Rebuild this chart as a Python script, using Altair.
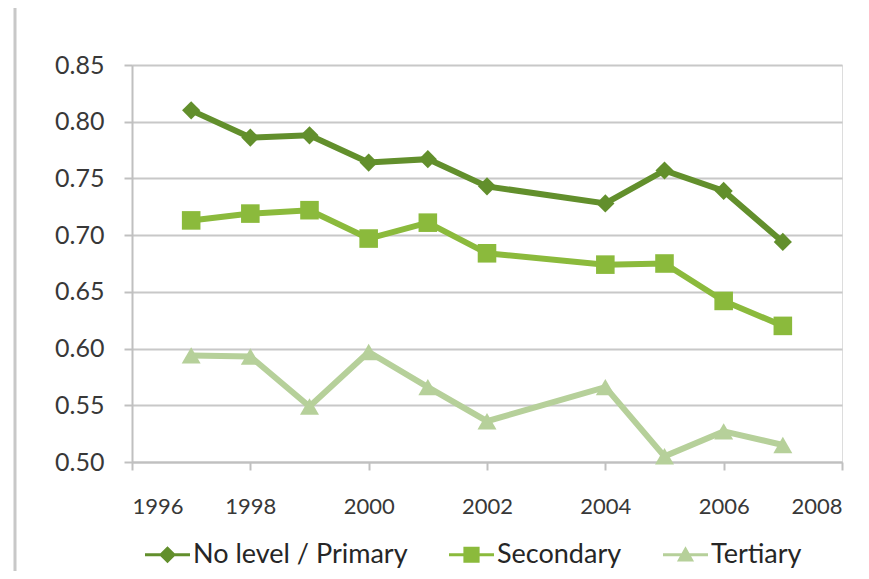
import altair as alt
import pandas as pd

years = [1997, 1998, 1999, 2000, 2001, 2002, 2004, 2005, 2006, 2007]
primary = [0.810, 0.786, 0.788, 0.764, 0.767, 0.743, 0.728, 0.757, 0.739, 0.694]
secondary = [0.713, 0.719, 0.722, 0.697, 0.711, 0.684, 0.674, 0.675, 0.642, 0.620]
tertiary = [0.594, 0.593, 0.549, 0.597, 0.566, 0.536, 0.566, 0.505, 0.527, 0.515]

series = ["No level / Primary", "Secondary", "Tertiary"]
colors = ["#628f2c", "#8bba3c", "#b6d09a"]
y_ticks = [0.50, 0.55, 0.60, 0.65, 0.70, 0.75, 0.80, 0.85]
x_ticks = [1996, 1998, 2000, 2002, 2004, 2006, 2008]

rows = []
for name, vals in zip(series, [primary, secondary, tertiary]):
    for yr, v in zip(years, vals):
        rows.append({"year": yr, "value": v, "series": name})
df = pd.DataFrame(rows)

FONT = "Lato"

x_enc = alt.X("year:Q", scale=alt.Scale(domain=[1996, 2008], nice=False),
              axis=alt.Axis(values=x_ticks, format="d", title=None, grid=False,
                            domainColor="#c0c0c0", domainWidth=2, tickColor="#c0c0c0",
                            tickWidth=2, tickSize=8, labelFontSize=22, labelColor="#383838",
                            labelFont=FONT, labelPadding=26))
y_enc = alt.Y("value:Q", scale=alt.Scale(domain=[0.50, 0.85], nice=False, zero=False),
              axis=alt.Axis(values=y_ticks, format=".2f", title=None, grid=True,
                            gridColor="#c8c8c8", gridWidth=2, domainColor="#c0c0c0",
                            domainWidth=2, tickColor="#c0c0c0", tickWidth=2, tickSize=8,
                            labelFontSize=25, labelColor="#383838", labelFont=FONT,
                            labelPadding=20))

base = alt.Chart(df)

lines = base.mark_line(strokeWidth=6).encode(
    x=x_enc, y=y_enc,
    color=alt.Color("series:N", scale=alt.Scale(domain=series, range=colors), legend=None),
    detail="series:N",
)

points = base.mark_point(filled=True, opacity=1).encode(
    x="year:Q", y="value:Q",
    color=alt.Color("series:N", scale=alt.Scale(domain=series, range=colors), legend=None),
    shape=alt.Shape("series:N", scale=alt.Scale(domain=series,
                    range=["diamond", "square", "triangle-up"]), legend=None),
    size=alt.Size("series:N", scale=alt.Scale(domain=series, range=[330, 360, 290]), legend=None),
)

leg_shapes = [
    "M-1,-0.07L1,-0.07L1,0.07L-1,0.07Z M0,-0.38L0.38,0L0,0.38L-0.38,0Z",
    "M-1,-0.07L1,-0.07L1,0.07L-1,0.07Z M-0.36,-0.36L0.36,-0.36L0.36,0.36L-0.36,0.36Z",
    "M-1,-0.07L1,-0.07L1,0.07L-1,0.07Z M0,-0.38L0.38,0.3L-0.38,0.3Z",
]

leg_props = dict(title=None, orient="none", legendX=12, legendY=466,
                 direction="horizontal", columns=3,
                 symbolSize=2025, labelFontSize=27, labelFont=FONT,
                 labelColor="#262626", columnPadding=38, labelLimit=0,
                 labelOffset=2, symbolOpacity=1)

legend_layer = base.transform_filter("datum.value < 0").mark_point(filled=True).encode(
    x="year:Q", y="value:Q",
    color=alt.Color("series:N", scale=alt.Scale(domain=series, range=colors),
                    legend=alt.Legend(**leg_props)),
    shape=alt.Shape("series:N", scale=alt.Scale(domain=series, range=leg_shapes),
                    legend=alt.Legend(**leg_props)),
)

border = alt.Chart(pd.DataFrame({"a": [0]})).mark_rule(color="#c8c8c8", strokeWidth=3).encode(
    x=alt.value(-117), y=alt.value(-58), y2=alt.value(520))
top_border = alt.Chart(pd.DataFrame({"a": [0]})).mark_rule(color="#f0f0f0", strokeWidth=1).encode(
    x=alt.value(-117), x2=alt.value(735), y=alt.value(-58))

chart = alt.layer(border, top_border, lines, points, legend_layer).resolve_scale(
    shape="independent", size="independent", color="independent"
).properties(
    width=710, height=397,
    padding={"left": 124, "top": 57, "right": 19, "bottom": 109},
    autosize=alt.AutoSizeParams(type="none"),
).configure_view(stroke=None).configure(background="white")

chart.save("out.html", embed_options={"renderer": "svg", "actions": False})
